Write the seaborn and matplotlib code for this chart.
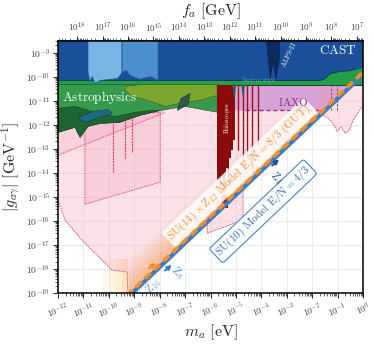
import numpy as np
import pandas as pd
import matplotlib
matplotlib.use("Agg")
import matplotlib.pyplot as plt
import seaborn as sns
from matplotlib.ticker import LogLocator, FuncFormatter, NullFormatter, FixedLocator

# ---------------- data (log10 of m_a [eV] and |g| [GeV^-1]) --------
fa_ma_const = 5.7e6          # f_a [GeV] * m_a [eV]
x_range = (-12, 0)
y_range = (-19, -8.52)
fa_tick_exponents = [7, 8, 9, 10, 11, 12, 13, 14, 15, 16, 17, 18]

hb_logm = [-12, 0, 0, -12]
hb_logg = [-10.33, -10.33, -8.3, -8.3]

cast_logm = [-12, 0, 0, -0.50, -0.90, -1.29, -1.49, -1.69, -12]
cast_logg = [-8.3, -8.3, -9.62, -9.75, -9.79, -9.87, -10.08, -10.16, -10.16]

lb1_logm = [-10.82, -9.48, -9.48, -9.64, -9.95, -10.35, -10.54, -10.66, -10.74, -10.82]
lb1_logg = [-8.3, -8.3, -9.83, -10.08, -10.12, -10.16, -10.29, -10.0, -10.24, -9.83]

lb2_logm = [-9.48, -8.06, -8.06, -8.38, -8.77, -9.17, -9.32, -9.48]
lb2_logg = [-8.3, -8.3, -10.16, -10.0, -10.12, -9.95, -9.75, -9.83]

alps_logm = [-3.81, -3.26, -3.30, -3.42, -3.54, -3.65, -3.73]
alps_logg = [-8.3, -8.3, -9.33, -10.08, -9.41, -10.08, -9.25]

astro_logm = [-12, -5.70, -5.70, -7.0, -7.98, -8.77, -9.56, -10.35, -10.82, -11.13, -11.33, -12]
astro_logg = [-10.33, -10.33, -11.49, -11.24, -11.41, -11.61, -11.90, -11.95, -12.07, -12.53, -12.11, -12.32]

dkgreen_logm = [-12, -11.33, -10.54, -9.76, -8.97, -8.38, -7.98, -8.77, -9.56, -10.35, -10.82, -11.13, -11.33, -12]
dkgreen_logg = [-11.32, -11.24, -11.49, -11.66, -11.49, -11.41, -11.41, -11.61, -11.90, -11.95, -12.07, -12.53, -12.11, -12.32]

teal_logm = [-11.21, -10.66, -10.03, -9.87, -10.35, -10.94]
teal_logg = [-11.74, -11.45, -11.37, -11.53, -11.70, -11.90]

olive_logm = [-9.36, -8.77, -5.74, -5.74, -6.41, -7.0, -7.79, -8.57, -9.09, -9.36]
olive_logg = [-10.41, -10.33, -10.33, -10.78, -10.99, -11.07, -11.24, -10.95, -10.83, -10.58]

slate_logm = [-7.31, -7.16, -6.80, -6.88]
slate_logg = [-11.41, -10.91, -10.70, -11.16]

iaxo_logm = [-6.3, -0.51, -1.59, -6.3]
iaxo_logg = [-10.33, -10.33, -11.41, -11.41]
iaxo_dash_logm = [-4.64, -1.59]
iaxo_dash_logg = [-11.41, -11.41]
future_vlines_logm = [-1.25, -1.02]

pink1_logm = [-12, -12, -11.72, -11.06, -10.27, -9.87, -9.28, -9.24, -9.08, -1.08, -12]
pink1_logg = [-11, -15.14, -15.97, -16.80, -17.63, -18.05, -18.13, -19.2, -19.2, -11, -11]
pink2_logm = [-10.94, -7.98, -7.98, -10.94, -10.94]
pink2_logg = [-11.5, -11.5, -14.39, -15.31, -11.5]
pink2b_logm = [-12, -12, -7.79, -7.79]
pink2b_logg = [-11, -13.27, -11.49, -11]
pink3_logm = [-1.76, 0, 0, -0.19, -0.39, -0.54, -0.70, -0.86, -1.02, -1.17, -1.37, -1.61, -1.76]
pink3_logg = [-10.33, -10.33, -11.20, -11.49, -11.82, -12.24, -12.36, -12.11, -12.28, -11.95, -11.74, -11.57, -11.41]
pink4_logm = [-6.13, -6.13, -4.72, -4.72]
pink4_logg = [-15.85, -16.51, -15.97, -14.45]
pink_spike_logm = [-9.83, -9.36, -9.09]
pink_spike_low = [-13.98, -13.40, -13.15]

halo_logm = [-5.74, -5.66, -5.58, -5.50, -5.44, -5.38, -5.32, -5.26, -5.18, -5.11]
halo_low = [-14.31, -14.56, -14.23, -14.81, -14.15, -13.81, -14.39, -13.40, -13.07, -12.65]
halo_blob_logm = [-5.54, -5.31]
halo_blob_logg = [-15.47, -14.93]
red_spike_logm = [-4.91, -4.72, -4.56, -4.36, -4.13]
red_spike_low = [-13.07, -13.69, -13.40, -13.98, -12.86]
ns1_logm = [-5.15, -4.99, -5.05]
ns1_logg = [-10.33, -10.33, -11.0]
ns2_logm = [-4.80, -4.64, -4.72]
ns2_logg = [-10.33, -10.33, -10.9]

# model lines (straight in log-log), endpoints
model_names = ["SU(14)xZ12  E/N=8/3", "SU(10)  E/N=4/3"]
model_logm = [[-9.3, 0.0], [-9.3, 0.0]]
model_logg = [[-19.12, -9.82], [-19.22, -9.92]]
band_offsets = [0.0, 0.25, 0.5, 0.75, 1.0, 1.25]
band_alpha = [0.6, 0.5, 0.4, 0.28, 0.18, 0.09]
gut_logm = -9.24
fade_steps = [0.0, 0.25, 0.5, 0.75, 1.0]
fade_alpha = [0.5, 0.35, 0.22, 0.12]

# ---------------- style ----------------
sns.set_style("ticks")
plt.rcParams.update({
    "mathtext.fontset": "cm",
    "font.family": ["DejaVu Serif"],
    "axes.linewidth": 1.1,
})

fig = plt.figure(figsize=(3.74, 3.44), dpi=100)
ax = fig.add_axes([58 / 374, 51 / 344, 305 / 374, 252 / 344])
ax.set_xscale("log")
ax.set_yscale("log")
ax.set_xlim(10.0 ** x_range[0], 10.0 ** x_range[1])
ax.set_ylim(10.0 ** y_range[0], 10.0 ** y_range[1])


def P(a):
    return 10.0 ** np.asarray(a, dtype=float)


def poly(lm, lg, **kw):
    ax.fill(P(lm), P(lg), **kw)


PINK = "#f29ab2"
PINK_EDGE = "#e23c68"
DASH = (0, (2, 1.2))

# faint yellow fade left of GUT line
for i in range(len(fade_alpha)):
    ax.fill_between(P([gut_logm - fade_steps[i + 1], gut_logm - fade_steps[i]]),
                    P([-19.3, -19.3]), P([-17.6, -17.6]),
                    color="#fbcf86", alpha=fade_alpha[i], lw=0, zorder=1)

# pink regions
poly(pink1_logm, pink1_logg, color=PINK, alpha=0.28, lw=0, zorder=2)
ax.plot(P(pink1_logm[1:8]), P(pink1_logg[1:8]), color=PINK_EDGE, lw=0.6, ls=DASH, zorder=2.1)
poly(pink2_logm, pink2_logg, color=PINK, alpha=0.25, lw=0, zorder=2)
ax.plot(P(pink2_logm), P(pink2_logg), color=PINK_EDGE, lw=0.6, ls=DASH, zorder=2.1)
poly(pink2b_logm, pink2b_logg, color=PINK, alpha=0.22, lw=0, zorder=2)
ax.plot(P(pink2b_logm[1:3]), P(pink2b_logg[1:3]), color=PINK_EDGE, lw=0.6, ls=DASH, zorder=2.1)
poly(pink4_logm, pink4_logg, color=PINK, alpha=0.3, lw=0, zorder=2)
ax.plot(P(pink4_logm), P(pink4_logg), color=PINK_EDGE, lw=0.6, ls=DASH, zorder=2.1)
ax.vlines(P(pink_spike_logm), P(pink_spike_low), 10.0 ** -11.5, color=PINK_EDGE, lw=0.8,
          ls=(0, (2, 0.8)), zorder=2.2)

# peach band above the GUT model line
slope = (model_logg[0][1] - model_logg[0][0]) / (model_logm[0][1] - model_logm[0][0])
band_m = P([gut_logm, model_logm[0][1]])
band_g = P([model_logg[0][0] + slope * (gut_logm - model_logm[0][0]), model_logg[0][1]])
for i, off in enumerate(band_offsets):
    ax.fill_between(band_m, band_g * 10 ** off, band_g * 10 ** (off + 0.25),
                    color="#f6a15a", alpha=band_alpha[i], lw=0, zorder=3)

# IAXO
poly(iaxo_logm, iaxo_logg, color="#d8a2d6", lw=0, zorder=3.5)
ax.plot(P(iaxo_dash_logm), P(iaxo_dash_logg), color="#8e2c8e", lw=1.0, ls=(0, (3, 2)), zorder=3.6)
ax.vlines(P(future_vlines_logm), 10 ** -11.41, 10 ** -10.33, color="#333333", lw=0.7,
          ls=(0, (2.5, 1.5)), zorder=3.7)
poly(pink3_logm, pink3_logg, color=PINK, alpha=0.3, lw=0, zorder=3.8)
ax.plot(P(pink3_logm[2:]), P(pink3_logg[2:]), color=PINK_EDGE, lw=0.6, ls=DASH, zorder=3.9)

# astrophysics + helioscopes
poly(hb_logm, hb_logg, color="#22a046", lw=0, zorder=4)
poly(astro_logm, astro_logg, color="#36994c", ec="#1d4a2a", lw=0.4, zorder=4.1)
poly(dkgreen_logm, dkgreen_logg, color="#1f6434", ec="#173d22", lw=0.4, zorder=4.2)
poly(teal_logm, teal_logg, color="#1b6a86", ec="#123c4a", lw=0.4, zorder=4.3)
poly(olive_logm, olive_logg, color="#7aa82e", ec="#3b5a1a", lw=0.4, zorder=4.3)
poly(slate_logm, slate_logg, color="#2f5a48", ec="#1d3a2c", lw=0.4, zorder=4.4)
ax.plot(P([-5.7, 0]), P([-10.33, -10.33]), color="#1d3d2a", lw=0.7, zorder=4.5)
poly(cast_logm, cast_logg, color="#1c4f9a", ec="#0f2f63", lw=0.6, zorder=4.6)
poly(lb1_logm, lb1_logg, color="#7ab4e4", ec="#1f4f8a", lw=0.5, zorder=4.7)
poly(lb2_logm, lb2_logg, color="#4d8fcd", ec="#1f4f8a", lw=0.5, zorder=4.7)
poly(alps_logm, alps_logg, color="#0d2b5e", ec="#0a1f45", lw=0.4, zorder=4.8)

# haloscopes
hm = P(halo_logm + [-5.05])
hl = P(halo_low + [halo_low[-1]])
ax.fill_between(hm, hl, 10 ** -10.33, step="post", color="#8b0a0a", lw=0, zorder=5)
ax.fill_between(P(halo_blob_logm), P([halo_blob_logg[0]] * 2), P([halo_blob_logg[1]] * 2),
                color="#9b1a0e", lw=0, zorder=5)
ax.vlines(P(red_spike_logm), P(red_spike_low), 10 ** -10.33, color="#a3121b", lw=1.0, zorder=5)
poly(ns1_logm, ns1_logg, color="#285f5a", lw=0, zorder=5.1)
poly(ns2_logm, ns2_logg, color="#285f5a", lw=0, zorder=5.1)

# model lines with seaborn
df = pd.DataFrame({
    "m": np.concatenate([P(v) for v in model_logm]),
    "g": np.concatenate([P(v) for v in model_logg]),
    "model": np.repeat(model_names, 2),
})
sns.lineplot(data=df[df.model == model_names[1]], x="m", y="g", color="#3a7cc1", lw=3.0,
             ax=ax, zorder=8, legend=False)
sns.lineplot(data=df[df.model == model_names[0]], x="m", y="g", color="#f28e2b", lw=2.6,
             ax=ax, zorder=8.1, legend=False)
ax.lines[-1].set_dashes((2.2, 1.3))

# labels on lines
ROT = 43.5
ax.text(10 ** -4.86, 10 ** -13.98,
        r"$\mathrm{SU(14)\times Z_{12}\ Model\ E/N=8/3\ (GUT)}$",
        color="#f28e2b", fontsize=8.2, rotation=ROT, ha="center", va="center",
        rotation_mode="anchor", zorder=9,
        bbox=dict(boxstyle="round,pad=0.2", fc="white", ec="none", alpha=0.85))
ax.text(10 ** -3.93, 10 ** -15.60, r"$\mathrm{SU(10)\ Model\ E/N=4/3}$",
        color="#2f6db3", fontsize=8.2, rotation=ROT, ha="center", va="center",
        rotation_mode="anchor", zorder=9,
        bbox=dict(boxstyle="round,pad=0.2", fc="white", ec="#4a82c8", lw=0.8))

arr = dict(arrowstyle="-|>", lw=1.6, mutation_scale=6)
ax.annotate("", xy=(10 ** -3.22, 10 ** -13.36), xytext=(10 ** -3.65, 10 ** -13.77),
            arrowprops=dict(color="#1f4f9a", **arr), zorder=9)
ax.annotate("", xy=(10 ** -8.06, 10 ** -17.67), xytext=(10 ** -8.50, 10 ** -18.05),
            arrowprops=dict(color="#f28e2b", **arr), zorder=9)
ax.annotate("", xy=(10 ** -7.43, 10 ** -17.76), xytext=(10 ** -7.87, 10 ** -18.13),
            arrowprops=dict(color="#3a7cc1", **arr), zorder=9)
ax.text(10 ** -3.42, 10 ** -14.19, r"$\mathrm{Z}_4$", color="#1f4f9a", fontsize=8,
        rotation=-46, ha="center", va="center", zorder=9)
ax.text(10 ** -8.26, 10 ** -18.71, r"$\mathrm{Z}_{16}$", color="#5b9bd5", fontsize=8,
        rotation=ROT, ha="center", va="center", zorder=9)
ax.text(10 ** -7.28, 10 ** -18.17, r"$\mathrm{Z}_8$", color="#4a8cd0", fontsize=8,
        rotation=-46, ha="center", va="center", zorder=9)

# region labels
ax.text(10 ** -0.98, 10 ** -8.92, r"$\mathrm{CAST}$", color="white", fontsize=9.5,
        ha="center", va="center", zorder=10)
ax.text(10 ** -11.84, 10 ** -10.87, r"$\mathrm{Astrophysics}$", color="white", fontsize=9.5,
        ha="left", va="center", zorder=10)
ax.text(10 ** -2.91, 10 ** -9.08, r"$\mathrm{ALPS}$-$\mathrm{II}$", color="white", fontsize=5,
        rotation=65, ha="center", va="center", zorder=10)
ax.text(10 ** -5.35, 10 ** -11.74, r"$\mathrm{Haloscopes}$", color="white", fontsize=4.5,
        rotation=90, ha="center", va="center", zorder=10)
ax.text(10 ** -4.13, 10 ** -10.12, r"$\mathrm{Neutron\ stars}$", color="#6fb0ae", fontsize=4,
        ha="center", va="center", zorder=10)
ax.text(10 ** -2.75, 10 ** -11.07, r"$\mathrm{IAXO}$", color="#8a2b8d", fontsize=8,
        ha="center", va="center", zorder=10)

# ticks / grid
fmt = FuncFormatter(lambda v, p: r"$10^{%d}$" % int(round(np.log10(v))))
for axis in (ax.xaxis, ax.yaxis):
    axis.set_major_locator(LogLocator(base=10, numticks=40))
    axis.set_minor_locator(LogLocator(base=10, subs=np.arange(2, 10), numticks=400))
    axis.set_major_formatter(fmt)
    axis.set_minor_formatter(NullFormatter())
ax.tick_params(which="major", length=3.5, width=0.7, colors="#222222", labelcolor="#444444")
ax.tick_params(which="minor", length=2, width=0.5, colors="#222222")
ax.tick_params(axis="x", labelsize=6.5, labelrotation=22, pad=2)
ax.tick_params(axis="y", labelsize=7, pad=2)
ax.grid(True, which="major", color="#e9e9e9", lw=0.6)
ax.set_axisbelow(True)
for s in ax.spines.values():
    s.set_color("black")
    s.set_linewidth(1.1)
    s.set_zorder(20)

ax.set_xlabel(r"$m_a\ [\mathrm{eV}]$", fontsize=11.5, labelpad=1)
ax.set_ylabel(r"$|g_{a\gamma}|\ [\mathrm{GeV}^{-1}]$", fontsize=11.5, labelpad=2)


def m2f(m):
    m = np.asarray(m, dtype=float)
    with np.errstate(divide="ignore"):
        return fa_ma_const / np.where(m == 0, 1e-300, m)


sec = ax.secondary_xaxis("top", functions=(m2f, m2f))
sec.xaxis.set_major_locator(FixedLocator([10.0 ** k for k in fa_tick_exponents]))
sec.xaxis.set_minor_locator(LogLocator(base=10, subs=np.arange(2, 10), numticks=400))
sec.xaxis.set_major_formatter(fmt)
sec.xaxis.set_minor_formatter(NullFormatter())
sec.tick_params(which="major", length=3.5, width=0.7, labelsize=6.5, pad=1.5, labelcolor="#444444")
sec.tick_params(which="minor", length=2, width=0.5)
sec.set_xlabel(r"$f_a\ [\mathrm{GeV}]$", fontsize=11.5, labelpad=4)

fig.savefig("out.png", dpi=100, facecolor="white")
